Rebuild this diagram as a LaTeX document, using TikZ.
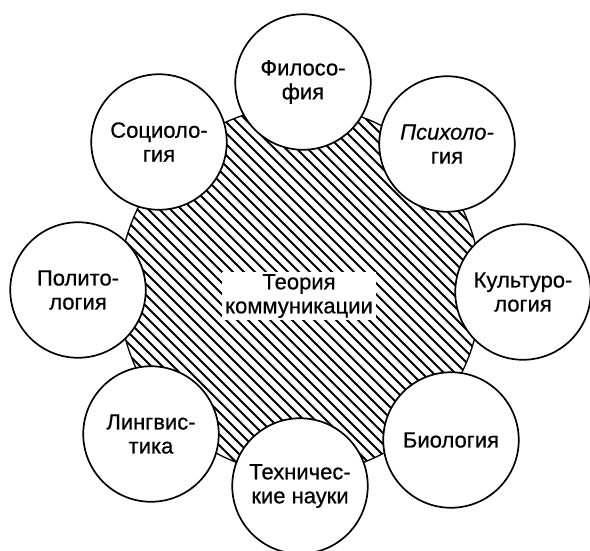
\documentclass[tikz,border=0pt]{standalone}
\usepackage{fontspec}
\setmainfont{Liberation Sans}[FakeBold=0.6]
\begin{document}
\begin{tikzpicture}[x=1pt,y=-1pt,
  lbl/.style={font=\fontsize{22}{24}\selectfont},
  disc/.style={circle, draw, line width=1.7pt, fill=white, inner sep=0pt,
    minimum size=135.5pt, align=center, lbl},
  hatch/.style={line width=1.9pt},
  bigring/.style={draw, line width=1.3pt}]
\useasboundingbox (0,0) rectangle (590,550);
% central hatched disc
\begin{scope}
  \clip (300,290) ellipse [x radius=181, y radius=184];
  \foreach \c in {-330,-319,...,460}
    \draw[hatch] (\c,50) -- ++(560,560);
\end{scope}
\draw[bigring] (300,290) ellipse [x radius=181, y radius=184];
% surrounding disciplines
\node[disc] (fil)  at (303,82)  {Филосо-\\фия};
\node[disc] (psy)  at (447,144) {\itshape Психоло-\\гия};
\node[disc] (kul)  at (523,292) {Культуро-\\логия};
\node[disc] (bio)  at (451,440) {Биология};
\node[disc] (teh)  at (300,486) {Техничес-\\кие науки};
\node[disc] (lin)  at (151,434) {Лингвис-\\тика};
\node[disc] (pol)  at (78,290)  {Полито-\\логия};
\node[disc] (soc)  at (159,142) {Социоло-\\гия};
% centre label
\node[fill=white, inner xsep=3pt, inner ysep=2pt, align=center, lbl]
  (tk) at (299,296) {Теория\\коммуникации};
\end{tikzpicture}
\end{document}
